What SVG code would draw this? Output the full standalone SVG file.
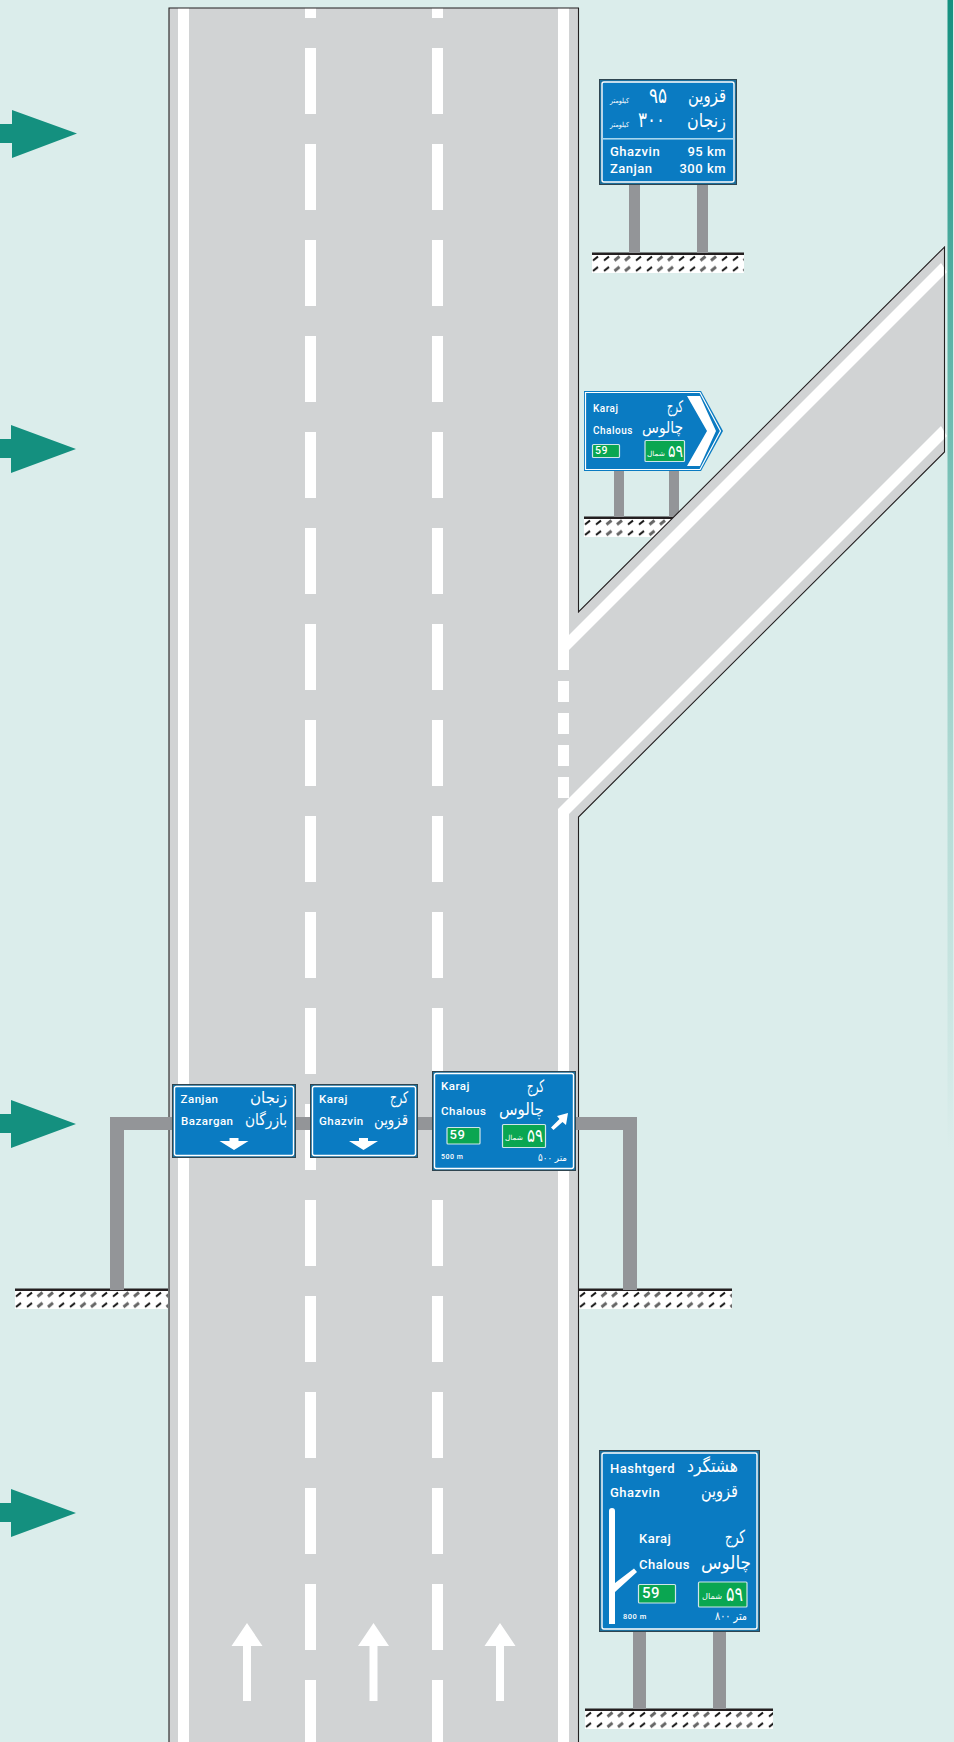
<svg xmlns="http://www.w3.org/2000/svg" width="954" height="1742" viewBox="0 0 954 1742">
<style>
.road{fill:#d1d3d4}
.edge{fill:none;stroke:#231f20;stroke-width:1.1}
.w{fill:#fff}
.post{fill:#939598}
.mark{fill:#14907f}
.gline{fill:#231f20}
.outer{fill:#1c6f9c;stroke:#2f4550;stroke-width:1}
.blue{fill:#0a7bc2;stroke:#fff;stroke-width:1.4}
.green{fill:#0aa651;stroke:#cfe5ea;stroke-width:1.2}
.lat{font-family:Roboto,"Liberation Sans",sans-serif;font-weight:500;fill:#fff;letter-spacing:.5px}
.fa{font-family:"DejaVu Sans",sans-serif;font-weight:400;fill:#fff;text-anchor:end}
.end{text-anchor:end}
</style>
<defs>
<linearGradient id="strip" x1="0" y1="0" x2="0" y2="1">
<stop offset="0" stop-color="#14907f"/><stop offset=".29" stop-color="#7fc4ba"/><stop offset=".46" stop-color="#b5dcd6"/><stop offset=".66" stop-color="#dbedeb"/>
</linearGradient>
<pattern id="hatch" width="43" height="10.500" patternUnits="userSpaceOnUse">
<rect width="43" height="10.500" fill="#fff"/>
<path d="M1 5.500L6 1.500M12 5.500L17 1.500" stroke="#111" stroke-width="2" fill="none"/>
<path d="M22.500 5.500L27.500 1.500M33 5.500L38 1.500" stroke="#666" stroke-width="3" fill="none"/>
</pattern>
</defs>
<rect width="954" height="1742" fill="#dbedeb"/>
<rect x="947.500" width="5.500" height="1742" fill="url(#strip)"/>

<g id="ground">
<g id="ground-1" transform="translate(592 255)"><rect width="152" height="18" fill="url(#hatch)"/><rect class="gline" y="-2.500" width="152" height="2.500"/></g>
<g id="ground-2" transform="translate(584 519)"><rect width="100" height="18" fill="url(#hatch)"/><rect class="gline" y="-2.500" width="100" height="2.500"/></g>
<g id="ground-3l" transform="translate(15 1291)"><rect width="153" height="18" fill="url(#hatch)"/><rect class="gline" y="-2.500" width="153" height="2.500"/></g>
<g id="ground-3r" transform="translate(579 1291)"><rect width="153" height="18" fill="url(#hatch)"/><rect class="gline" y="-2.500" width="153" height="2.500"/></g>
<g id="ground-4" transform="translate(585 1711)"><rect width="188" height="18" fill="url(#hatch)"/><rect class="gline" y="-2.500" width="188" height="2.500"/></g>
</g>

<g id="posts">
<rect class="post" x="629" y="185" width="11" height="68"/>
<rect class="post" x="697" y="185" width="11" height="68"/>
<rect class="post" x="614" y="471" width="10" height="46"/>
<rect class="post" x="669" y="471" width="10" height="46"/>
<rect class="post" x="633" y="1632" width="13" height="77"/>
<rect class="post" x="713" y="1632" width="13" height="77"/>
</g>

<g id="road">
<path class="road" d="M169 8H578.500V612L944.500 247V452L578.500 817V1742H169Z"/>
<path class="w" d="M178 8H189V1742H178Z"/>
<path class="w" d="M558 8H569V635L941 263L947 272L569 650V670H558Z"/>
<path class="w" d="M558 809L941 426L947 436L569 814V1742H558Z"/>
<path class="w" d="M558 681h11v21h-11zM558 713h11v21h-11zM558 745h11v21h-11zM558 777h11v21h-11z"/>
<path stroke="#fff" stroke-width="11" stroke-dasharray="66 30" stroke-dashoffset="56" fill="none" d="M310.500 8V1742M437.500 8V1742"/>
<path class="edge" d="M169 1742V8H578.500V612L944.500 247V452L578.500 817V1742"/>
<g id="road-arrows" class="w">
<path d="M247 1623L262.500 1646H251V1701H243V1646H231.500Z"/>
<path d="M373.500 1623L389 1646H377.500V1701H369.500V1646H358Z"/>
<path d="M500 1623L515.500 1646H504V1701H496V1646H484.500Z"/>
</g>
</g>

<g id="markers" class="mark">
<path d="M0 124H12V110L77 133.500L12 158V143H0Z"/>
<path d="M0 439H11V425L76 449L11 473V458H0Z"/>
<path d="M0 1114H11V1100L76 1124L11 1148V1133H0Z"/>
<path d="M0 1503H11V1489L76 1513L11 1537V1522H0Z"/>
</g>

<g id="gantry">
<path class="post" d="M110 1290V1117H637V1290H623V1130H124V1290Z"/>
</g>

<g id="sign-1">
<rect class="outer" x="599.500" y="79.500" width="137" height="105"/>
<rect class="blue" x="602" y="82" width="132" height="100" rx="2"/>
<rect x="602" y="138" width="132" height="1.600" fill="#a8d6ee"/>
<text class="fa" x="726" y="102" font-size="19" textLength="38" lengthAdjust="spacingAndGlyphs">قزوین</text>
<text class="fa" x="726" y="127" font-size="19" textLength="39" lengthAdjust="spacingAndGlyphs">زنجان</text>
<text class="fa" x="667" y="103" font-size="21" textLength="18" lengthAdjust="spacingAndGlyphs">۹۵</text>
<text class="fa" x="665" y="127" font-size="21" textLength="27" lengthAdjust="spacingAndGlyphs">۳۰۰</text>
<text class="fa" x="629" y="103" font-size="7" textLength="19" lengthAdjust="spacingAndGlyphs">کیلومتر</text>
<text class="fa" x="629" y="127" font-size="7" textLength="19" lengthAdjust="spacingAndGlyphs">کیلومتر</text>
<text class="lat" x="610" y="156" font-size="13">Ghazvin</text>
<text class="lat" x="610" y="173" font-size="13">Zanjan</text>
<text class="lat end" x="726" y="156" font-size="13">95 km</text>
<text class="lat end" x="726" y="173" font-size="13">300 km</text>
</g>

<g id="sign-2">
<path d="M584 391H701L723 431L701 471H584Z" fill="#0a7bc2"/>
<path d="M585.500 392.500H700L720.500 431L700 469.500H585.500Z" fill="none" stroke="#fff" stroke-width="1.200"/>
<path d="M687 396H700L716 431L700 466H687L707 431Z" fill="#fff"/>
<text class="lat" x="593" y="412" font-size="10">Karaj</text>
<text class="lat" x="593" y="434" font-size="10">Chalous</text>
<text class="fa" x="683" y="412" font-size="16" textLength="16" lengthAdjust="spacingAndGlyphs">کرج</text>
<text class="fa" x="683" y="433" font-size="16" textLength="41" lengthAdjust="spacingAndGlyphs">چالوس</text>
<rect class="green" x="592.500" y="444.500" width="27" height="13" rx="1"/>
<text class="lat" x="595" y="454" font-size="10.500">59</text>
<rect class="green" x="645" y="440.500" width="39.500" height="21" rx="1"/>
<text class="fa" x="683" y="457" font-size="17" textLength="15" lengthAdjust="spacingAndGlyphs">۵۹</text>
<text class="fa" x="665" y="456" font-size="7" textLength="18" lengthAdjust="spacingAndGlyphs">شمال</text>
</g>

<g id="sign-3a">
<rect class="outer" x="172.500" y="1084.500" width="123" height="73"/>
<rect class="blue" x="174.500" y="1086.500" width="119" height="69" rx="2"/>
<text class="lat" x="180.500" y="1103" font-size="11.500">Zanjan</text>
<text class="lat" x="181" y="1125" font-size="11.500">Bazargan</text>
<text class="fa" x="287" y="1103" font-size="16" textLength="37" lengthAdjust="spacingAndGlyphs">زنجان</text>
<text class="fa" x="287" y="1125" font-size="16" textLength="42" lengthAdjust="spacingAndGlyphs">بازرگان</text>
<path class="w" d="M219.500 1141H229.500V1138H238.500V1141H248.500L234 1150Z"/>
</g>

<g id="sign-3b">
<rect class="outer" x="310.500" y="1084.500" width="107" height="73"/>
<rect class="blue" x="312.500" y="1086.500" width="103" height="69" rx="2"/>
<text class="lat" x="319" y="1103" font-size="11.500">Karaj</text>
<text class="lat" x="319" y="1125" font-size="11.500">Ghazvin</text>
<text class="fa" x="408" y="1103" font-size="16" textLength="18" lengthAdjust="spacingAndGlyphs">کرج</text>
<text class="fa" x="408" y="1125" font-size="16" textLength="34" lengthAdjust="spacingAndGlyphs">قزوین</text>
<path class="w" d="M349 1141H359V1138H368V1141H378L363.500 1150Z"/>
</g>

<g id="sign-3c">
<rect class="outer" x="432.500" y="1071.500" width="143" height="99"/>
<rect class="blue" x="434.500" y="1073.500" width="139" height="95" rx="2"/>
<text class="lat" x="441" y="1090" font-size="11.500">Karaj</text>
<text class="lat" x="441" y="1115" font-size="11.500">Chalous</text>
<text class="fa" x="544" y="1092" font-size="17" textLength="17" lengthAdjust="spacingAndGlyphs">کرج</text>
<text class="fa" x="544" y="1115" font-size="17" textLength="45" lengthAdjust="spacingAndGlyphs">چالوس</text>
<rect class="green" x="447" y="1127.500" width="33" height="16.500" rx="1"/>
<text class="lat" x="449.500" y="1139" font-size="13">59</text>
<rect class="green" x="502.500" y="1124.500" width="43" height="23" rx="1"/>
<text class="fa" x="543" y="1142" font-size="19" textLength="16" lengthAdjust="spacingAndGlyphs">۵۹</text>
<text class="fa" x="523" y="1140" font-size="7" textLength="18" lengthAdjust="spacingAndGlyphs">شمال</text>
<path class="w" d="M557 1116L568 1113L566 1125L562.500 1122L553.500 1130L551 1127.500L559.500 1119Z"/>
<text class="lat" x="441" y="1159" font-size="7">500 m</text>
<text class="fa" x="567" y="1161" font-size="10" textLength="29" lengthAdjust="spacingAndGlyphs">۵۰۰ متر</text>
</g>

<g id="sign-4">
<rect class="outer" x="599.500" y="1450.500" width="160" height="181"/>
<rect class="blue" x="602" y="1453" width="155" height="176" rx="2"/>
<text class="lat" x="610" y="1473" font-size="13">Hashtgerd</text>
<text class="lat" x="610" y="1497" font-size="13">Ghazvin</text>
<text class="fa" x="738" y="1472" font-size="18" textLength="51" lengthAdjust="spacingAndGlyphs">هشتگرد</text>
<text class="fa" x="738" y="1497" font-size="18" textLength="37" lengthAdjust="spacingAndGlyphs">قزوین</text>
<path class="w" d="M609 1511a3 3 0 0 1 6 0V1583L634 1568.500L637 1572L615 1592V1624H609Z"/>
<text class="lat" x="639" y="1543" font-size="13">Karaj</text>
<text class="lat" x="639" y="1569" font-size="13">Chalous</text>
<text class="fa" x="745" y="1543" font-size="18" textLength="20" lengthAdjust="spacingAndGlyphs">کرج</text>
<text class="fa" x="751" y="1569" font-size="18" textLength="50" lengthAdjust="spacingAndGlyphs">چالوس</text>
<rect class="green" x="638.500" y="1584.500" width="37" height="18.500" rx="1"/>
<text class="lat" x="642" y="1598" font-size="15">59</text>
<rect class="green" x="698.500" y="1582" width="48.500" height="25" rx="1"/>
<text class="fa" x="743" y="1601" font-size="20" textLength="17" lengthAdjust="spacingAndGlyphs">۵۹</text>
<text class="fa" x="722" y="1599" font-size="8" textLength="20" lengthAdjust="spacingAndGlyphs">شمال</text>
<text class="lat" x="623" y="1619" font-size="7.500">800 m</text>
<text class="fa" x="747" y="1620" font-size="12" textLength="32" lengthAdjust="spacingAndGlyphs">۸۰۰ متر</text>
</g>
</svg>
